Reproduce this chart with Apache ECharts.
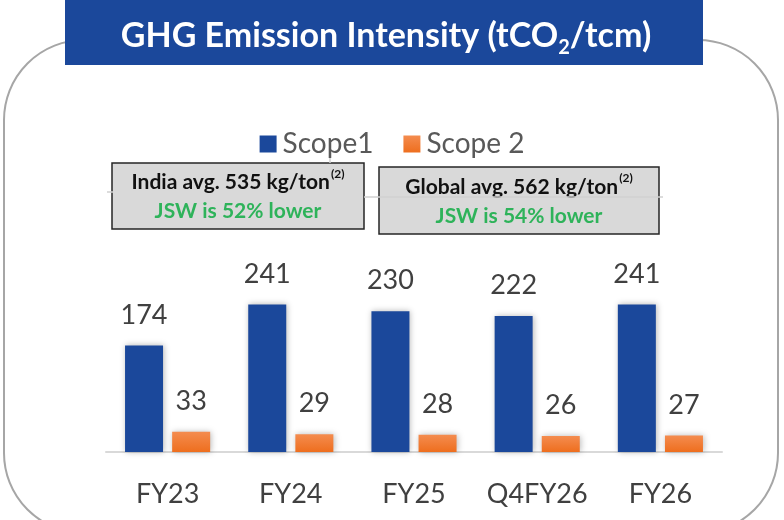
<!DOCTYPE html>
<html>
<head>
<meta charset="utf-8">
<script src="https://cdn.jsdelivr.net/npm/echarts@6/dist/echarts.min.js"></script>
<style>
  html, body { margin: 0; padding: 0; background: #ffffff; }
  #chart { width: 784px; height: 520px; }
</style>
</head>
<body>
<div id="chart"></div>
<script>
// GHG emission intensity by period, tCO2 per tonne of crude metal
const categories = ['FY23', 'FY24', 'FY25', 'Q4FY26', 'FY26'];
const scope1 = [174, 241, 230, 222, 241];
const scope2 = [33, 29, 28, 26, 27];
const seriesNames = ['Scope1', 'Scope 2'];

const FONT = 'Lato, "Open Sans", "Liberation Sans", sans-serif';
const BLUE = '#1B489B';
const TEXT = '#404040';

const chart = echarts.init(document.getElementById('chart'), null, { renderer: 'canvas' });

const barShadow = {
  shadowColor: 'rgba(0,0,0,0.28)',
  shadowBlur: 6,
  shadowOffsetX: 1,
  shadowOffsetY: 0
};

const valueLabel = {
  show: true,
  position: 'top',
  distance: 17,
  fontFamily: FONT,
  fontSize: 27,
  color: TEXT
};

function noteBox(x, y, w, h, line1, line2) {
  return {
    type: 'group',
    z: 20,
    children: [
      {
        type: 'rect',
        shape: { x: x, y: y, width: w, height: h },
        style: { fill: '#d9d9d9', stroke: '#262626', lineWidth: 1.5 }
      },
      {
        type: 'text',
        x: x + w / 2,
        y: y + h / 2 + 1,
        style: {
          text: '{b|' + line1 + '}{s|(2)}\n{g|' + line2 + '}',
          align: 'center',
          verticalAlign: 'middle',
          fontFamily: FONT,
          rich: {
            b: { fontFamily: FONT, fontSize: 21, fontWeight: 'bold', fill: '#111111', lineHeight: 29 },
            s: { fontFamily: FONT, fontSize: 12, fontWeight: 'bold', fill: '#111111', lineHeight: 29, verticalAlign: 'top', padding: [0, 0, 10, 1] },
            g: { fontFamily: FONT, fontSize: 21, fontWeight: 'bold', fill: '#2EB35A', lineHeight: 29 }
          }
        }
      }
    ]
  };
}

const option = {
  backgroundColor: '#ffffff',
  animation: false,
  textStyle: { fontFamily: FONT },
  legend: {
    data: seriesNames,
    top: 125,
    left: 'center',
    icon: 'rect',
    itemWidth: 17,
    itemHeight: 17,
    itemGap: 30,
    textStyle: { fontFamily: FONT, fontSize: 28, color: '#595959', padding: [0, 0, 0, 1] }
  },
  grid: { left: 106, right: 62, top: 207, bottom: 68 },
  xAxis: {
    type: 'category',
    data: categories,
    axisLine: { show: true, lineStyle: { color: '#d9d9d9', width: 2 } },
    axisTick: { show: false },
    axisLabel: { interval: 0, fontFamily: FONT, fontSize: 27, color: TEXT, margin: 29 }
  },
  yAxis: {
    type: 'value',
    min: 0,
    max: 400,
    show: false,
    splitLine: { show: false }
  },
  graphic: [
    // rounded outer frame
    {
      type: 'rect',
      z: 0,
      shape: { x: 4, y: 40, width: 774, height: 493, r: 80 },
      style: { fill: 'none', stroke: '#a6a6a6', lineWidth: 2 }
    },
    // faint connectors behind the note boxes
    {
      type: 'polyline',
      z: 1,
      shape: { points: [[107, 192], [113, 192]] },
      style: { stroke: '#d0d0d0', lineWidth: 1.5 }
    },
    {
      type: 'polyline',
      z: 1,
      shape: { points: [[364, 197], [663, 197]] },
      style: { stroke: '#d0d0d0', lineWidth: 1.5 }
    },
    {
      type: 'polyline',
      z: 1,
      shape: { points: [[330, 150], [330, 163]] },
      style: { stroke: '#d0d0d0', lineWidth: 1.5 }
    },
    // title banner
    {
      type: 'rect',
      z: 10,
      shape: { x: 65, y: 0, width: 638, height: 65 },
      style: { fill: BLUE }
    },
    {
      type: 'text',
      z: 11,
      x: 386,
      y: 36,
      style: {
        text: '{t|GHG Emission Intensity (tCO}{sub|2}{t|/tcm)}',
        align: 'center',
        verticalAlign: 'middle',
        rich: {
          t: { fontFamily: FONT, fontSize: 34, fontWeight: 'bold', fill: '#ffffff', lineHeight: 44 },
          sub: { fontFamily: FONT, fontSize: 20, fontWeight: 'bold', fill: '#ffffff', lineHeight: 44, verticalAlign: 'bottom', padding: [12, 0, 0, 0] }
        }
      }
    },
    noteBox(112, 163, 252, 66, 'India avg. 535 kg/ton', 'JSW is 52% lower'),
    noteBox(379, 167, 280, 67, 'Global avg. 562 kg/ton', 'JSW is 54% lower')
  ],
  series: [
    {
      name: seriesNames[0],
      type: 'bar',
      data: scope1,
      barWidth: 38,
      barGap: '24%',
      itemStyle: Object.assign({ color: BLUE }, barShadow),
      label: valueLabel
    },
    {
      name: seriesNames[1],
      type: 'bar',
      data: scope2,
      barWidth: 38,
      itemStyle: Object.assign({
        color: new echarts.graphic.LinearGradient(0, 0, 0, 1, [
          { offset: 0, color: '#F48C4F' },
          { offset: 1, color: '#EE6E1E' }
        ])
      }, barShadow),
      label: valueLabel
    }
  ]
};

chart.setOption(option);
</script>
</body>
</html>
